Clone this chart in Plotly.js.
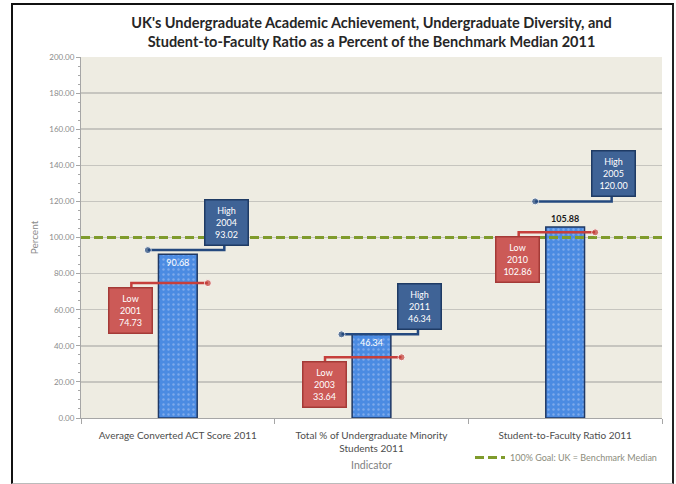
<!DOCTYPE html>
<html>
<head>
<meta charset="utf-8">
<script src="https://cdn.plot.ly/plotly-3.0.1.min.js"></script>
<style>
  html, body { margin: 0; padding: 0; background: #ffffff; }
  #wrap { position: relative; width: 676px; height: 484px; }
  #chart { position: absolute; left: 0; top: 0; width: 676px; height: 484px; }
  #frame { position: absolute; left: 11px; top: 3px; width: 659px; height: 478px;
           border-top: 2px solid #111; border-left: 2px solid #111; border-right: 2px solid #222;
           border-bottom: 1px solid #bbb; pointer-events: none; }
</style>
</head>
<body>
<div id="wrap">
  <div id="chart"></div>
  <div id="frame"></div>
</div>
<script>
// ---- data ----
const categories = [
  "Average Converted ACT Score 2011",
  "Total % of Undergraduate Minority<br>Students 2011",
  "Student-to-Faculty Ratio 2011"
];
const values2011 = [90.68, 46.34, 105.88];
const highYears = ["2004", "2011", "2005"];
const highValues = [93.02, 46.34, 120.00];
const lowYears = ["2001", "2003", "2010"];
const lowValues = [74.73, 33.64, 102.86];
const goalValue = 100;
const goalName = "100% Goal: UK = Benchmark Median";
const yTicks = [0, 20, 40, 60, 80, 100, 120, 140, 160, 180, 200];

// ---- styles ----
const FONT = "Lato, 'Open Sans', sans-serif";
const idx = categories.map((c, i) => i);

const traces = [];

traces.push({
  type: "bar",
  x: idx,
  y: values2011,
  width: 0.2,
  marker: {
    color: "#4B8BE2",
    line: { color: "#1F3864", width: 1.5 },
    pattern: { shape: ".", fgcolor: "#7DAAEB", bgcolor: "#4B8BE2", size: 5, solidity: 0.18 }
  },
  texttemplate: "%{y:.2f}",
  textposition: values2011.map((v, i) => i === 2 ? "outside" : "inside"),
  insidetextanchor: "end",
  insidetextfont: { family: FONT, size: 9, color: "#ffffff" },
  outsidetextfont: { family: FONT, size: 9, color: "#1a1a1a", weight: "bold" },
  textangle: 0,
  cliponaxis: false,
  showlegend: false,
  hoverinfo: "skip"
});

traces.push({
  type: "scatter",
  mode: "lines",
  x: [-0.5, 2.5],
  y: [goalValue, goalValue],
  name: goalName,
  line: { color: "#7F9B2C", width: 3, dash: "9px,4px" },
  hoverinfo: "skip",
  showlegend: true
});

const annotations = [];
idx.forEach(i => {
  traces.push({
    type: "scatter",
    mode: "lines+markers",
    x: [i - 0.155, i + 0.24, i + 0.24],
    y: [highValues[i], highValues[i], highValues[i] + 2.5],
    line: { color: "#24497F", width: 2.5 },
    marker: { size: [7, 0, 0], color: "#24497F" },
    showlegend: false, hoverinfo: "skip", cliponaxis: false
  });
  traces.push({
    type: "scatter",
    mode: "lines+markers",
    x: [i + 0.155, i - 0.24, i - 0.24],
    y: [lowValues[i], lowValues[i], lowValues[i] - 2.5],
    line: { color: "#C63F3B", width: 2.5 },
    marker: { size: [7, 0, 0], color: "#C63F3B" },
    showlegend: false, hoverinfo: "skip", cliponaxis: false
  });
  annotations.push({
    x: i + 0.25, y: highValues[i], xref: "x", yref: "y",
    xanchor: "center", yanchor: "bottom", yshift: 4,
    text: "High<br>" + highYears[i] + "<br>" + highValues[i].toFixed(2),
    showarrow: false,
    font: { family: FONT, size: 9, color: "#ffffff" },
    bgcolor: "#3F6396", bordercolor: "#1F3B64", borderwidth: 1.5, borderpad: 1,
    width: 40, height: 42
  });
  annotations.push({
    x: i - 0.245, y: lowValues[i], xref: "x", yref: "y",
    xanchor: "center", yanchor: "top", yshift: -4,
    text: "Low<br>" + lowYears[i] + "<br>" + lowValues[i].toFixed(2),
    showarrow: false,
    font: { family: FONT, size: 9, color: "#ffffff" },
    bgcolor: "#CC5A57", bordercolor: "#A43A37", borderwidth: 1.5, borderpad: 1,
    width: 40, height: 42
  });
});

const layout = {
  width: 676, height: 484,
  margin: { l: 81, r: 14, t: 57, b: 61 },
  paper_bgcolor: "#ffffff",
  plot_bgcolor: "#EEECE2",
  font: { family: FONT },
  title: {
    text: "<b>UK's Undergraduate Academic Achievement, Undergraduate Diversity, and<br>Student-to-Faculty Ratio as a Percent of the Benchmark Median 2011</b>",
    font: { family: FONT, size: 14.5, color: "#262626" },
    x: 0.5, xanchor: "center", xref: "paper",
    y: 1 - 28 / 484, yref: "container", yanchor: "middle"
  },
  xaxis: {
    range: [-0.5, 2.5],
    tickmode: "array",
    tickvals: idx,
    ticktext: categories,
    ticks: "",
    ticklabelstandoff: 8,
    showgrid: false,
    zeroline: false,
    showline: true, linecolor: "#A6A6A6", linewidth: 1,
    tickfont: { family: FONT, size: 10, color: "#4d4d4d" },
    minor: { tickmode: "array", tickvals: [-0.5, 0.5, 1.5, 2.5], ticks: "outside", ticklen: 5, tickcolor: "#A6A6A6", showgrid: false },
    title: { text: "Indicator", font: { family: FONT, size: 10.5, color: "#7f7f7f" }, standoff: 8 },
    fixedrange: true
  },
  yaxis: {
    range: [0, 200],
    tickmode: "array",
    tickvals: yTicks,
    tickformat: ".2f",
    ticks: "outside", ticklen: 4, tickcolor: "#A6A6A6",
    showline: true, linecolor: "#A6A6A6", linewidth: 1,
    gridcolor: "#C6C5BF", gridwidth: 1.5,
    zeroline: false,
    tickfont: { family: FONT, size: 8, color: "#8c8c8c" },
    minor: { dtick: 5, ticks: "outside", ticklen: 2, tickcolor: "#A6A6A6", showgrid: false },
    title: { text: "Percent", font: { family: FONT, size: 10, color: "#8c8c8c" }, standoff: 8 },
    fixedrange: true
  },
  legend: {
    orientation: "h",
    x: 1, xanchor: "right",
    y: -40 / 366, yanchor: "middle",
    font: { family: FONT, size: 9, color: "#8c8c7c" },
    bgcolor: "rgba(0,0,0,0)",
    itemwidth: 30
  },
  annotations: annotations,
  showlegend: true,
  bargap: 0.8
};

Plotly.newPlot("chart", traces, layout, { displayModeBar: false, staticPlot: true });
</script>
</body>
</html>
